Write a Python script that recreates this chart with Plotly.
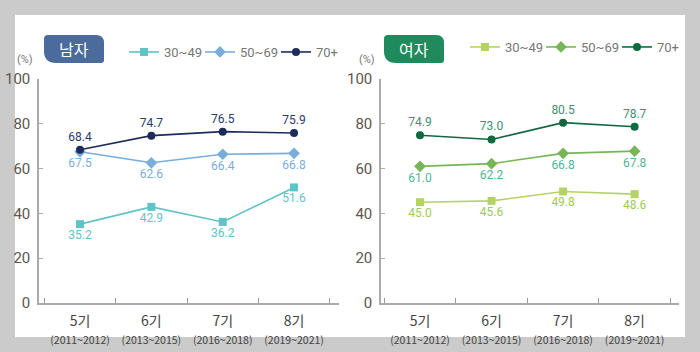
import plotly.graph_objects as go

W, H = 700, 352

periods = ["5기", "6기", "7기", "8기"]
years = ["(2011~2012)", "(2013~2015)", "(2016~2018)", "(2019~2021)"]
groups = ["30~49", "50~69", "70+"]

male_30_49 = [35.2, 42.9, 36.2, 51.6]
male_50_69 = [67.5, 62.6, 66.4, 66.8]
male_70p = [68.4, 74.7, 76.5, 75.9]

female_30_49 = [45.0, 45.6, 49.8, 48.6]
female_50_69 = [61.0, 62.2, 66.8, 67.8]
female_70p = [74.9, 73.0, 80.5, 78.7]

y_ticks = [0, 20, 40, 60, 80, 100]

male_colors = ["#5ec4c8", "#7badda", "#1e2c5c"]
male_text_colors = ["#5ec4c8", "#7badda", "#2a3a68"]
female_colors = ["#b3d465", "#76b657", "#11693f"]
female_text_colors = ["#9ccc50", "#4fb59a", "#3d8f72"]
symbols = ["square", "diamond", "circle"]
sizes = [8, 9, 8]
textpos = ["bottom center", "bottom center", "top center"]

FONT_NUM = "Roboto, sans-serif"
FONT_KR = "Noto Sans CJK KR, sans-serif"


def px(x):
    return x / W


def py(y):
    return 1 - y / H


fig = go.Figure()
xidx = list(range(len(periods)))

for i, (g, vals) in enumerate(zip(groups, [male_30_49, male_50_69, male_70p])):
    fig.add_trace(go.Scatter(
        x=xidx, y=vals, name=g, mode="lines+markers+text",
        line=dict(color=male_colors[i], width=1.6),
        marker=dict(symbol=symbols[i], size=sizes[i], color=male_colors[i]),
        text=[f"{v:.1f}" for v in vals], textposition=textpos[i],
        textfont=dict(family=FONT_NUM, size=12, color=male_text_colors[i]),
        xaxis="x", yaxis="y", legend="legend", cliponaxis=False))

for i, (g, vals) in enumerate(zip(groups, [female_30_49, female_50_69, female_70p])):
    fig.add_trace(go.Scatter(
        x=xidx, y=vals, name=g, mode="lines+markers+text",
        line=dict(color=female_colors[i], width=1.6),
        marker=dict(symbol=symbols[i], size=sizes[i], color=female_colors[i]),
        text=[f"{v:.1f}" for v in vals], textposition=textpos[i],
        textfont=dict(family=FONT_NUM, size=12, color=female_text_colors[i]),
        xaxis="x2", yaxis="y2", legend="legend2", cliponaxis=False))

ticktext = [f"{p}<br><span style='font-size:10.5px'>{y}</span>" for p, y in zip(periods, years)]

xaxis_common = dict(
    tickmode="array", tickvals=xidx, ticktext=ticktext, ticks="",
    tickfont=dict(family=FONT_KR, size=14, color="#444444"),
    showgrid=False, zeroline=False, showline=True, linecolor="#aaaaaa", linewidth=1.5,
    minor=dict(tickmode="array", tickvals=[-0.5, 0.5, 1.5, 2.5, 3.5], ticks="inside",
               ticklen=5, tickcolor="#999999", tickwidth=1, showgrid=False),
    fixedrange=True, automargin=False, ticklabelstandoff=4,
)
yaxis_common = dict(
    range=[0, 100], tickmode="array", tickvals=y_ticks, ticks="inside", ticklen=4,
    tickcolor="#aaaaaa", tickfont=dict(family=FONT_NUM, size=15, color="#5e5650"),
    showgrid=False, zeroline=False, showline=True, linecolor="#aaaaaa", linewidth=1.5,
    ticklabelstandoff=4, fixedrange=True, automargin=False,
)

legend_common = dict(orientation="h", xanchor="left", yanchor="middle",
                     font=dict(family=FONT_NUM, size=13, color="#777777"),
                     bgcolor="rgba(0,0,0,0)", itemwidth=30, entrywidth=31,
                     entrywidthmode="pixels")

fig.update_layout(
    width=W, height=H, margin=dict(l=0, r=0, t=0, b=0),
    paper_bgcolor="#cbcbcb", plot_bgcolor="rgba(0,0,0,0)",
    xaxis=dict(domain=[px(39), px(339)], range=[-0.575, 3.63], anchor="y", **xaxis_common),
    yaxis=dict(domain=[py(303), py(79)], anchor="x", **yaxis_common),
    xaxis2=dict(domain=[px(381), px(679)], range=[-0.545, 3.62], anchor="y2", **xaxis_common),
    yaxis2=dict(domain=[py(303), py(79)], anchor="x2", **yaxis_common),
    legend=dict(x=px(124), y=py(52), **legend_common),
    legend2=dict(x=px(465), y=py(47), **legend_common),
    showlegend=True,
)

# white panel
fig.add_shape(type="rect", xref="paper", yref="paper", x0=px(15), x1=px(685),
              y0=py(337), y1=py(15), fillcolor="white", line=dict(width=0), layer="below")


def badge(x0, y0, x1, y1, r_tl, r_tr, r_br, r_bl, color):
    def P(x, y):
        return f"{px(x):.5f},{py(y):.5f}"
    path = (f"M {P(x0 + r_tl, y0)} L {P(x1 - r_tr, y0)} Q {P(x1, y0)} {P(x1, y0 + r_tr)} "
            f"L {P(x1, y1 - r_br)} Q {P(x1, y1)} {P(x1 - r_br, y1)} "
            f"L {P(x0 + r_bl, y1)} Q {P(x0, y1)} {P(x0, y1 - r_bl)} "
            f"L {P(x0, y0 + r_tl)} Q {P(x0, y0)} {P(x0 + r_tl, y0)} Z")
    fig.add_shape(type="path", xref="paper", yref="paper", path=path,
                  fillcolor=color, line=dict(width=0))


badge(44, 35, 104, 63, 4, 8, 3, 12, "#4a6b9c")
badge(384, 35, 444, 63, 4, 8, 3, 12, "#1f8a5c")

for cx, label in [(74, "남자"), (414, "여자")]:
    fig.add_annotation(xref="paper", yref="paper", x=px(cx), y=py(49), text=label,
                       showarrow=False, font=dict(family=FONT_KR, size=16, color="white"),
                       xanchor="center", yanchor="middle")

for cx in [25, 367]:
    fig.add_annotation(xref="paper", yref="paper", x=px(cx), y=py(60), text="(%)",
                       showarrow=False, font=dict(family=FONT_NUM, size=11, color="#777777"),
                       xanchor="center", yanchor="middle")

fig.write_html("out.html")
